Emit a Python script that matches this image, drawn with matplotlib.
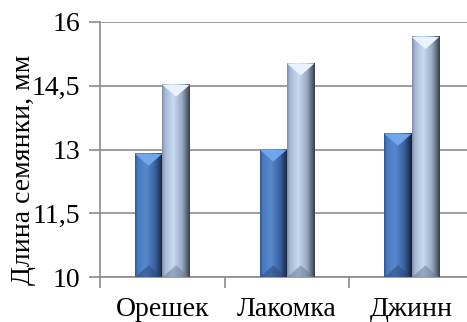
import numpy as np
import matplotlib
matplotlib.use("Agg")
from matplotlib import pyplot as plt
from matplotlib.colors import LinearSegmentedColormap
from matplotlib.patches import Polygon

# данные
categories = ["Орешек", "Лакомка", "Джинн"]
series_dark = [12.9, 13.0, 13.37]
series_light = [14.52, 15.02, 15.64]
yticks = [10, 11.5, 13, 14.5, 16]
ytick_labels = ["10", "11,5", "13", "14,5", "16"]

plt.rcParams['font.family'] = 'serif'
plt.rcParams['font.serif'] = ['Liberation Serif', 'DejaVu Serif']

fig = plt.figure(figsize=(4.67, 3.22), dpi=100)
ax = fig.add_axes([100/467, 0.1388, 374/467, 0.7938])

x = np.arange(len(categories))
w = 0.22
bars_dark = ax.bar(x - w/2, series_dark, width=w, color="none", zorder=3)
bars_light = ax.bar(x + w/2, series_light, width=w, color="none", zorder=3)

ax.set_xlim(-0.5, 2.5)
ax.set_ylim(10, 16)

# градиенты для "объёмных" столбиков
cm_dark = LinearSegmentedColormap.from_list("d", [
    (0.0, "#2f5892"), (0.1, "#4a7bbf"), (0.4, "#5888cc"),
    (0.72, "#3a62a0"), (0.9, "#223a60"), (1.0, "#141f32")])
cm_light = LinearSegmentedColormap.from_list("l", [
    (0.0, "#7e8ea8"), (0.1, "#a6b8d4"), (0.4, "#c8daf2"),
    (0.72, "#9aaac2"), (0.9, "#5c6678"), (1.0, "#363e4c")])
grad = np.linspace(0, 1, 64).reshape(1, -1)

# пиксели на единицу по y
p0 = ax.transData.transform((0, 10))
p1 = ax.transData.transform((0, 11))
ppu = p1[1] - p0[1]
bh = 12 / ppu

def draw_bars(bars, cmap, top_col, bot_col):
    for b in bars:
        x0 = b.get_x()
        x1 = x0 + b.get_width()
        top = b.get_height()
        ax.imshow(grad, cmap=cmap, aspect="auto",
                  extent=(x0, x1, 10, top), zorder=3)
        xc = (x0 + x1) / 2
        ax.add_patch(Polygon([(x0, top), (x1, top), (xc, top - bh)],
                             closed=True, facecolor=top_col, edgecolor="none", zorder=4))
        ax.add_patch(Polygon([(x0, 10), (x1, 10), (xc, 10 + bh)],
                             closed=True, facecolor=bot_col, edgecolor="none",
                             alpha=0.5, zorder=4))

draw_bars(bars_dark, cm_dark, "#72a6ea", "#2a4672")
draw_bars(bars_light, cm_light, "#eaf2fe", "#6a7890")

ax.set_xlim(-0.5, 2.5)
ax.set_ylim(10, 16)

ax.set_yticks(yticks)
ax.set_yticklabels(ytick_labels, fontsize=20)
ax.set_xticks(x)
ax.set_xticklabels(categories, fontsize=20)
ax.tick_params(axis="x", length=0, pad=14)
ax.set_xticks([-0.5, 0.5, 1.5, 2.5], minor=True)
ax.tick_params(axis="x", which="minor", length=8, color="#8c8c8c", width=1.2)
ax.tick_params(axis="y", length=8, color="#8c8c8c", width=1.2, pad=6)

ax.grid(axis="y", color="#8c8c8c", linewidth=1.2, zorder=0)
for s in ["top", "right"]:
    ax.spines[s].set_visible(False)
for s in ["left", "bottom"]:
    ax.spines[s].set_color("#8c8c8c")
    ax.spines[s].set_linewidth(1.2)

ax.set_ylabel("Длина семянки, мм", fontsize=20)
ax.yaxis.set_label_coords(-0.17, 0.42)

fig.savefig("out.png", dpi=100)
